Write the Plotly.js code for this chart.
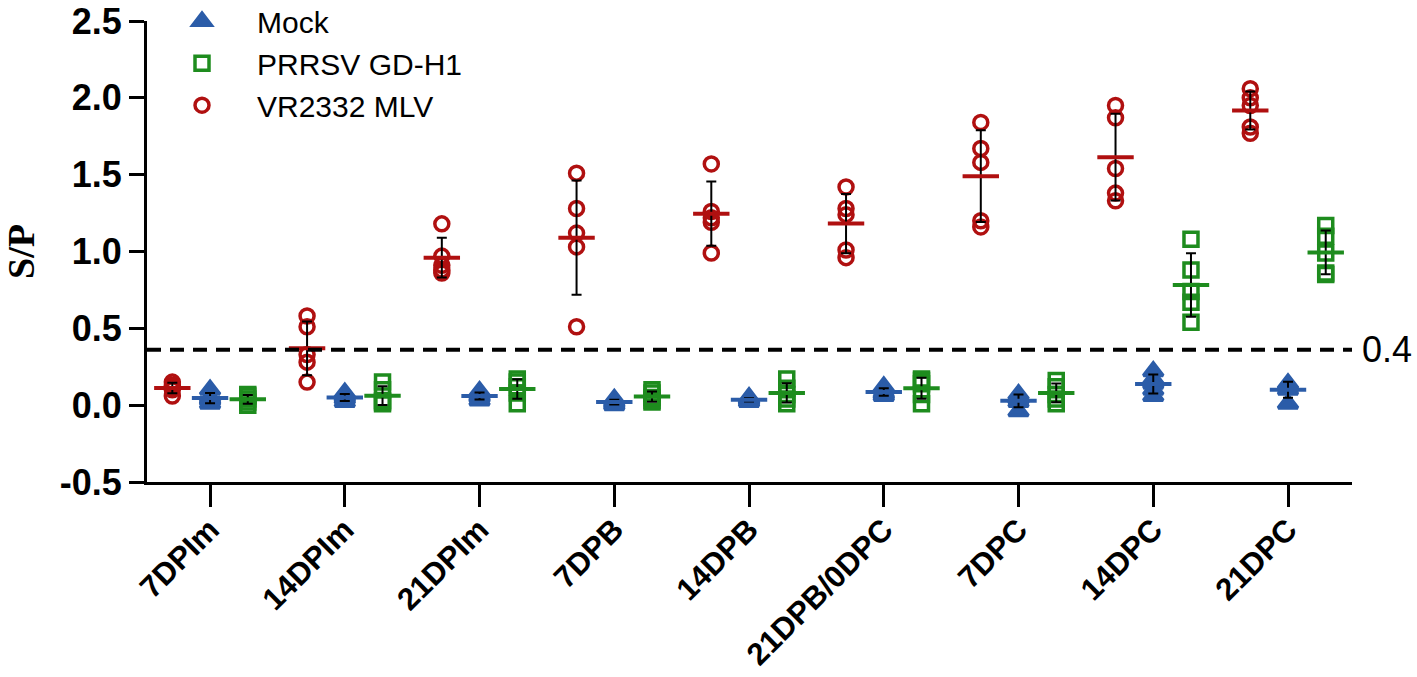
<!DOCTYPE html>
<html>
<head>
<meta charset="utf-8">
<script src="https://cdn.plot.ly/plotly-3.0.1.min.js"></script>
<style>
  html, body { margin: 0; padding: 0; background: #fff; }
  #chart { width: 1417px; height: 677px; }
</style>
</head>
<body>
<div id="chart"></div>
<script>
// timepoints on the x axis
const timepoints = ['7DPIm', '14DPIm', '21DPIm', '7DPB', '14DPB', '21DPB/0DPC', '7DPC', '14DPC', '21DPC'];

// y axis ticks (hyphen minus, as in the figure)
const yTickVals = [-0.5, 0, 0.5, 1, 1.5, 2, 2.5];
const yTickText = ['-0.5', '0.0', '0.5', '1.0', '1.5', '2.0', '2.5'];

// S/P values per pig, one array of 5 per timepoint
const mockValues = [
  [0.01, 0.03, 0.04, 0.05, 0.10],
  [0.02, 0.04, 0.05, 0.06, 0.08],
  [0.03, 0.05, 0.06, 0.07, 0.09],
  [0.00, 0.01, 0.02, 0.03, 0.04],
  [0.02, 0.03, 0.04, 0.04, 0.05],
  [0.06, 0.07, 0.08, 0.10, 0.12],
  [-0.04, 0.02, 0.04, 0.05, 0.07],
  [0.06, 0.10, 0.14, 0.17, 0.22],
  [0.01, 0.10, 0.12, 0.13, 0.14]
];
const gdh1Values = [
  [0.00, 0.02, 0.04, 0.06, 0.07],
  [0.01, 0.02, 0.03, 0.10, 0.15],
  [0.01, 0.08, 0.12, 0.15, 0.17],
  [0.02, 0.03, 0.05, 0.08, 0.10],
  [0.01, 0.04, 0.07, 0.11, 0.17],
  [0.01, 0.07, 0.14, 0.16, 0.17],
  [0.01, 0.04, 0.07, 0.12, 0.16],
  [0.54, 0.67, 0.74, 0.88, 1.08],
  [0.85, 0.86, 0.99, 1.10, 1.17]
];
const mlvValues = [
  [0.06, 0.10, 0.12, 0.13, 0.15],
  [0.15, 0.28, 0.33, 0.51, 0.58],
  [0.86, 0.88, 0.91, 0.97, 1.18],
  [0.51, 1.03, 1.12, 1.28, 1.51],
  [0.99, 1.19, 1.22, 1.26, 1.57],
  [0.96, 1.01, 1.24, 1.28, 1.42],
  [1.16, 1.20, 1.58, 1.67, 1.84],
  [1.33, 1.38, 1.54, 1.87, 1.95],
  [1.77, 1.81, 1.95, 2.00, 2.06]
];

const cutoffValue = 0.36;
const cutoffLabel = '0.4';

const groups = [
  { name: 'Mock',        values: mockValues, color: '#2B5CA8', symbol: 'triangle-up', size: 17, offset: 0 },
  { name: 'PRRSV GD-H1', values: gdh1Values, color: '#1E8C1E', symbol: 'square-open', size: 14, offset: 0.28 },
  { name: 'VR2332 MLV',  values: mlvValues,  color: '#B01010', symbol: 'circle-open', size: 14, offset: -0.28 }
];

const mean = arr => arr.reduce((a, b) => a + b, 0) / arr.length;
const sd = arr => {
  const m = mean(arr);
  return Math.sqrt(arr.reduce((a, b) => a + (b - m) * (b - m), 0) / (arr.length - 1));
};

const pointTraces = [];
const barTraces = [];
const meanTraces = [];

groups.forEach(g => {
  const xs = [];
  const ys = [];
  g.values.forEach((vals, i) => {
    vals.forEach(v => { xs.push(i + g.offset); ys.push(v); });
  });
  pointTraces.push({
    x: xs, y: ys,
    type: 'scatter', mode: 'markers',
    name: g.name,
    cliponaxis: false,
    marker: { symbol: g.symbol, size: g.size, color: g.color, line: { width: 3.5, color: g.color } }
  });

  const mx = g.values.map((_, i) => i + g.offset);
  const my = g.values.map(mean);
  barTraces.push({
    x: mx, y: my,
    type: 'scatter', mode: 'markers',
    showlegend: false, hoverinfo: 'skip',
    marker: { size: 1, opacity: 0 },
    error_y: { type: 'data', array: g.values.map(sd), color: '#000', thickness: 2, width: 5 }
  });
  meanTraces.push({
    x: mx, y: my,
    type: 'scatter', mode: 'markers',
    showlegend: false,
    marker: { symbol: 'line-ew', size: 26, color: g.color, line: { width: 4, color: g.color } }
  });
});

const layout = {
  width: 1417,
  height: 677,
  margin: { l: 147, r: 65, t: 21, b: 195, autoexpand: false },
  paper_bgcolor: '#fff',
  plot_bgcolor: '#fff',
  font: { family: 'Liberation Sans, Arial, sans-serif', color: '#000' },
  showlegend: true,
  legend: {
    x: 0.0, y: 1.056, xanchor: 'left', yanchor: 'top',
    bgcolor: 'rgba(0,0,0,0)',
    itemwidth: 100,
    font: { size: 30, family: 'Liberation Sans, Arial, sans-serif' },
    traceorder: 'normal'
  },
  xaxis: {
    automargin: false,
    range: [-0.468, 8.475],
    tickmode: 'array',
    tickvals: timepoints.map((_, i) => i),
    ticktext: timepoints,
    tickangle: -45,
    ticklabelstandoff: -8,
    ticklabeloverflow: 'allow',
    ticks: 'outside', ticklen: 22, tickwidth: 3, tickcolor: '#000',
    showline: true, linewidth: 3, linecolor: '#000',
    showgrid: false, zeroline: false,
    tickfont: { size: 31, weight: 'bold', family: 'Liberation Sans, Arial, sans-serif' }
  },
  yaxis: {
    automargin: false,
    range: [-0.5, 2.5001],
    tickmode: 'array',
    tickvals: yTickVals,
    ticktext: yTickText,
    ticklabeloverflow: 'allow',
    ticks: 'outside', ticklen: 15, tickwidth: 3, tickcolor: '#000',
    showline: true, linewidth: 3, linecolor: '#000',
    showgrid: false, zeroline: false,
    tickfont: { size: 36, weight: 'bold', family: 'Liberation Sans, Arial, sans-serif' },
    title: { text: 'S/P', standoff: 14, font: { size: 38, weight: 'bold', family: 'Liberation Serif, Times New Roman, serif' } }
  },
  shapes: [{
    type: 'line', xref: 'paper', x0: 0, x1: 1, yref: 'y', y0: cutoffValue, y1: cutoffValue,
    line: { color: '#000', width: 4, dash: '14px,9px' }
  }],
  annotations: [{
    xref: 'paper', x: 1, xanchor: 'left', xshift: 8,
    yref: 'y', y: cutoffValue, yanchor: 'middle',
    text: cutoffLabel, showarrow: false,
    font: { size: 36, family: 'Liberation Sans, Arial, sans-serif' }
  }]
};

Plotly.newPlot('chart', [...pointTraces, ...barTraces, ...meanTraces], layout, { staticPlot: true });
</script>
</body>
</html>
